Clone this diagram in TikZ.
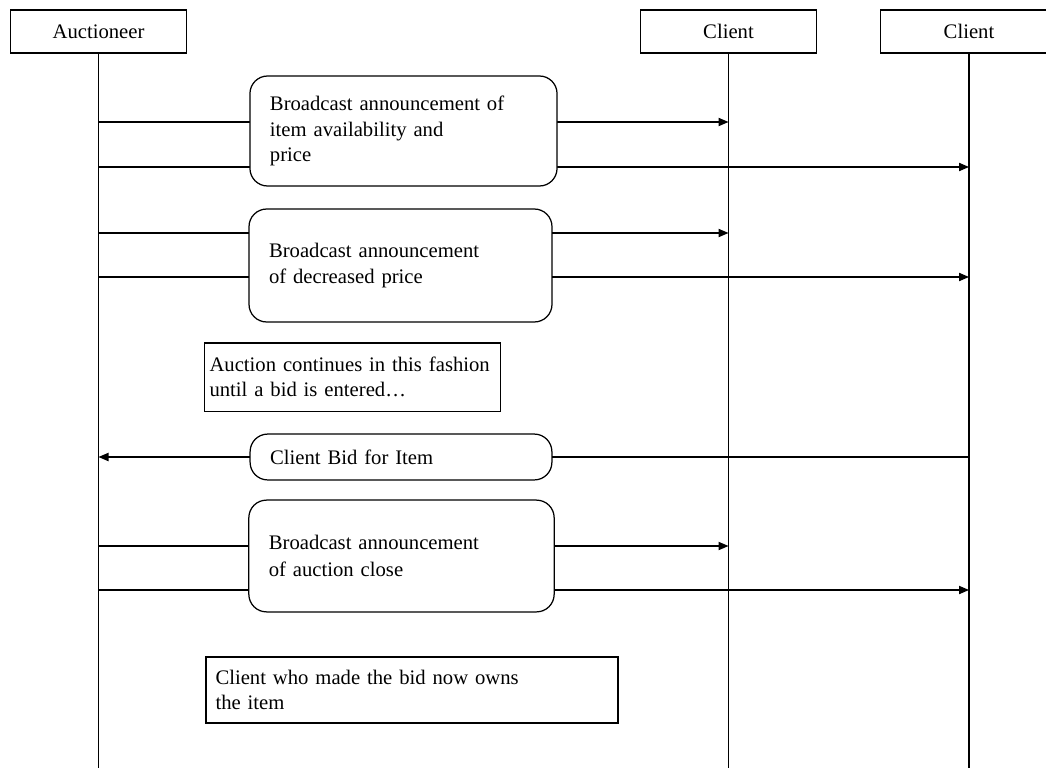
\documentclass[tikz,border=0pt]{standalone}
\usepackage{fontspec}
\setmainfont{Liberation Serif}
\usepackage{tikz}
\usetikzlibrary{arrows.meta,positioning}

\begin{document}
\begin{tikzpicture}[
        x=0.017cm, y=-0.017cm,
        font=\fontsize{10}{12.2}\selectfont,
        line width=0.6pt,
        head/.style={
            rectangle, draw, fill=white, minimum width=3cm, minimum height=0.73cm
        },
        msgbox/.style={
            rectangle, draw, fill=white, rounded corners=0.3cm,
            align=left, inner xsep=0.34cm, inner ysep=0pt
        },
        note/.style={
            rectangle, draw, fill=white, align=left, inner ysep=0pt
        },
        call/.style={-{Triangle[length=1.7mm,width=1.4mm]}}
    ]
    \useasboundingbox (0,0) rectangle (1046,768);

    % Participants
    \node[head] (auc) at (98.5,31.5) {Auctioneer};
    \node[head] (cla) at (728.5,31.5) {Client};
    \node[head] (clb) at (969,31.5) {Client};

    % Lifelines
    \coordinate (bottom) at (0,768);
    \draw (auc.south) -- (auc |- bottom);
    \draw (cla.south) -- (cla |- bottom);
    \draw (clb.south) -- (clb |- bottom);

    % Message rows
    \coordinate (m1) at (0,122);
    \coordinate (m2) at (0,167);
    \coordinate (m3) at (0,233);
    \coordinate (m4) at (0,277);
    \coordinate (m5) at (0,457);
    \coordinate (m6) at (0,546);
    \coordinate (m7) at (0,590);

    \draw[call] (auc |- m1) -- (cla |- m1);
    \draw[call] (auc |- m2) -- (clb |- m2);
    \draw[call] (auc |- m3) -- (cla |- m3);
    \draw[call] (auc |- m4) -- (clb |- m4);
    \draw[call] (clb |- m5) -- (auc |- m5);
    \draw[call] (auc |- m6) -- (cla |- m6);
    \draw[call] (auc |- m7) -- (clb |- m7);

    % Announcement of item
    \node[msgbox, text width=4.54cm, minimum height=1.87cm] (avail) at (403.5,131) {
        Broadcast announcement of\\
        item availability and\\
        price
    };

    % Decreased price
    \node[msgbox, text width=4.47cm, minimum height=1.92cm] (decr) at (400.5,265.5) {
        Broadcast announcement\\
        of decreased price
    };

    % Waiting for a bid
    \node[note, text width=4.86cm, inner xsep=0.08cm, minimum height=1.16cm] (wait) at (352.5,377) {
        Auction continues in this fashion\\
        until a bid is entered\ldots
    };

    % Bid from client
    \node[msgbox, text width=4.45cm, minimum height=0.78cm] (bid) at (401,457) {
        Client Bid for Item
    };

    % Auction close
    \node[msgbox, text width=4.51cm, minimum height=1.9cm] (close) at (401.5,556) {
        Broadcast announcement\\[1pt]
        of auction close
    };

    % Result
    \node[note, text width=6.68cm, inner xsep=0.16cm, minimum height=1.12cm] (owner) at (412,690) {
        Client who made the bid now owns\\
        the item
    };

\end{tikzpicture}
\end{document}
